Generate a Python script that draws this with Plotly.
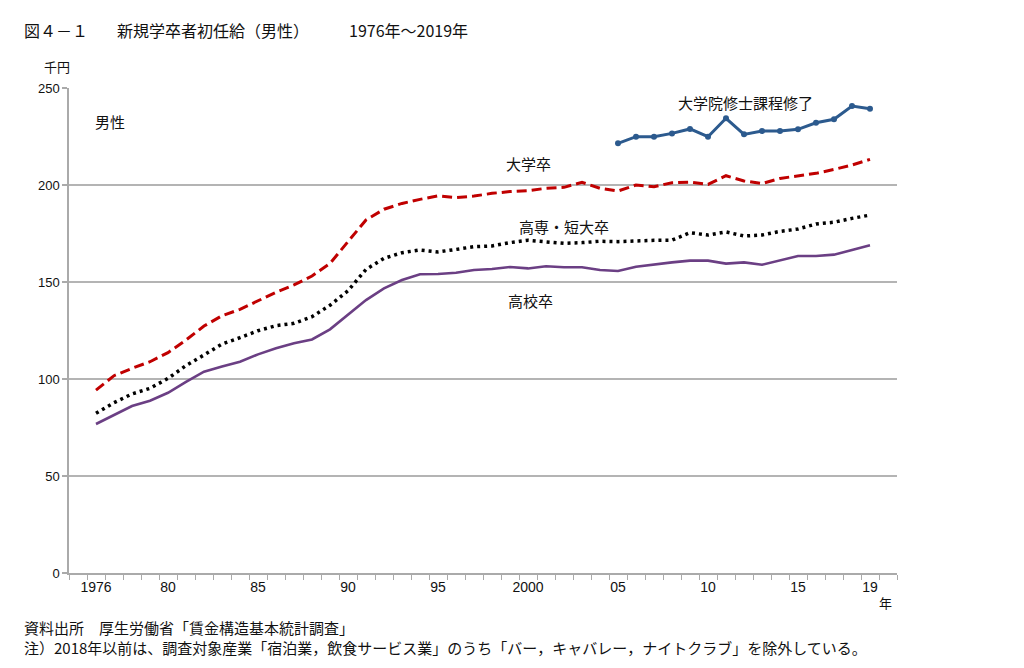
import plotly.graph_objects as go

years = list(range(1976, 2020))

koukou = [76.8, 81.4, 86.1, 88.8, 92.9, 98.5, 103.8, 106.4, 108.9, 112.7,
          115.8, 118.4, 120.4, 125.6, 133.4, 140.7, 146.7, 151.0, 154.0, 154.1,
          154.8, 156.2, 156.7, 157.7, 157.0, 158.1, 157.6, 157.6, 156.2, 155.7,
          157.9, 159.1, 160.1, 161.0, 161.0, 159.5, 160.1, 158.9, 161.3, 163.4,
          163.4, 164.1, 166.5, 168.9]

daigaku = [94.3, 101.7, 105.5, 108.9, 113.6, 120.1, 127.3, 132.6, 135.9, 140.2,
           144.7, 148.5, 153.1, 159.6, 170.8, 182.0, 187.5, 190.5, 192.6, 194.4,
           193.5, 194.3, 195.7, 196.6, 197.1, 198.3, 198.8, 201.4, 198.3, 196.9,
           200.0, 199.1, 201.2, 201.5, 200.3, 204.8, 202.1, 200.7, 203.4, 204.8,
           206.0, 208.0, 210.3, 213.2]

tandai = [82.3, 87.8, 92.3, 95.2, 100.3, 106.9, 112.4, 118.0, 121.3, 124.9,
          127.5, 128.7, 132.1, 138.0, 145.5, 156.5, 162.2, 165.1, 166.5, 165.5,
          166.8, 168.2, 168.6, 170.3, 171.5, 170.8, 169.9, 170.3, 171.0, 170.8,
          171.3, 171.5, 171.6, 175.4, 174.2, 175.8, 173.7, 174.2, 176.1, 177.3,
          179.9, 180.8, 182.8, 184.5]

in_years = list(range(2005, 2020))
daigakuin = [221.5, 224.9, 224.9, 226.6, 228.9, 224.9, 234.4, 226.1, 227.8, 227.8,
             228.7, 232.1, 233.9, 240.7, 239.3]

xtick_vals = [1976, 1980, 1985, 1990, 1995, 2000, 2005, 2010, 2015, 2019]
xtick_text = ["1976", "80", "85", "90", "95", "2000", "05", "10", "15", "19"]
ytick_vals = [0, 50, 100, 150, 200, 250]

# page offset (body margin) and target pixel geometry
OFF = 8
L, R, T, B = 69 - OFF, 897 - OFF, 88 - OFF, 573 - OFF
W, H = 1024 - OFF, 668 - OFF

def px(x):
    return (x - OFF - L) / (R - L)

def py(y):
    return (B - (y - OFF)) / (B - T)

JP = "Noto Sans CJK JP"
fig = go.Figure()

fig.add_trace(go.Scatter(x=years, y=koukou, mode="lines",
                         line=dict(color="#6B3F84", width=2.6), showlegend=False))
fig.add_trace(go.Scatter(x=years, y=tandai, mode="lines",
                         line=dict(color="#000000", width=3.5, dash="3px,4px"), showlegend=False))
fig.add_trace(go.Scatter(x=years, y=daigaku, mode="lines",
                         line=dict(color="#C00000", width=3, dash="10px,5px"), showlegend=False))
fig.add_trace(go.Scatter(x=in_years, y=daigakuin, mode="lines+markers",
                         line=dict(color="#2C5A8E", width=3),
                         marker=dict(color="#2C5A8E", size=6), showlegend=False))

ann = []
def text(x, y, s, size=14, xanchor="center", yanchor="middle", family=JP, color="#111111", align="center"):
    ann.append(dict(x=px(x), y=py(y), xref="paper", yref="paper", text=s, showarrow=False,
                    xanchor=xanchor, yanchor=yanchor, align=align,
                    font=dict(family=family, size=size, color=color)))

# title
text(22, 30, "図４－１", size=16, xanchor="left")
text(115, 30, "新規学卒者初任給（男性）", size=16, xanchor="left")
text(347, 30, "1976年～2019年", size=16, xanchor="left")
# unit and labels
text(57, 67, "千円", size=13)
text(110, 122, "男性", size=15)
text(745, 102, "大学院修士課程修了", size=15)
text(528, 163, "大学卒", size=15)
text(564, 226, "高専・短大卒", size=15)
text(530, 300, "高校卒", size=15)
text(885, 602, "年", size=13)
# footnotes
text(22, 637, "資料出所　厚生労働省「賃金構造基本統計調査」<br>"
     "注）2018年以前は、調査対象産業「宿泊業，飲食サービス業」のうち「バー，キャバレー，ナイトクラブ」を除外している。",
     size=15, xanchor="left", align="left")

fig.update_layout(
    width=W, height=H,
    margin=dict(l=L, r=W - R, t=T, b=H - B),
    paper_bgcolor="white", plot_bgcolor="white",
    annotations=ann,
    xaxis=dict(range=[1974.5, 2020.5], tickmode="array", tickvals=xtick_vals, ticktext=xtick_text,
               ticks="", showgrid=False, zeroline=False,
               showline=True, linecolor="#AAAAAA", linewidth=1.5,
               tickfont=dict(family="Liberation Sans Narrow, Arial Narrow, sans-serif", size=14, color="#111111"),
               minor=dict(tick0=1974.5, dtick=1, ticks="outside", ticklen=5, tickcolor="#AAAAAA",
                          tickwidth=1, showgrid=False),
               fixedrange=True),
    yaxis=dict(range=[0, 250], tickmode="array", tickvals=ytick_vals,
               ticks="outside", ticklen=5, tickcolor="#AAAAAA", tickwidth=1.5,
               showgrid=True, gridcolor="#B4B4B4", gridwidth=1.5, zeroline=False,
               showline=True, linecolor="#AAAAAA", linewidth=1.5,
               tickfont=dict(family="Liberation Sans, Arial, sans-serif", size=13, color="#111111"),
               fixedrange=True),
)

fig.write_html("out.html")
